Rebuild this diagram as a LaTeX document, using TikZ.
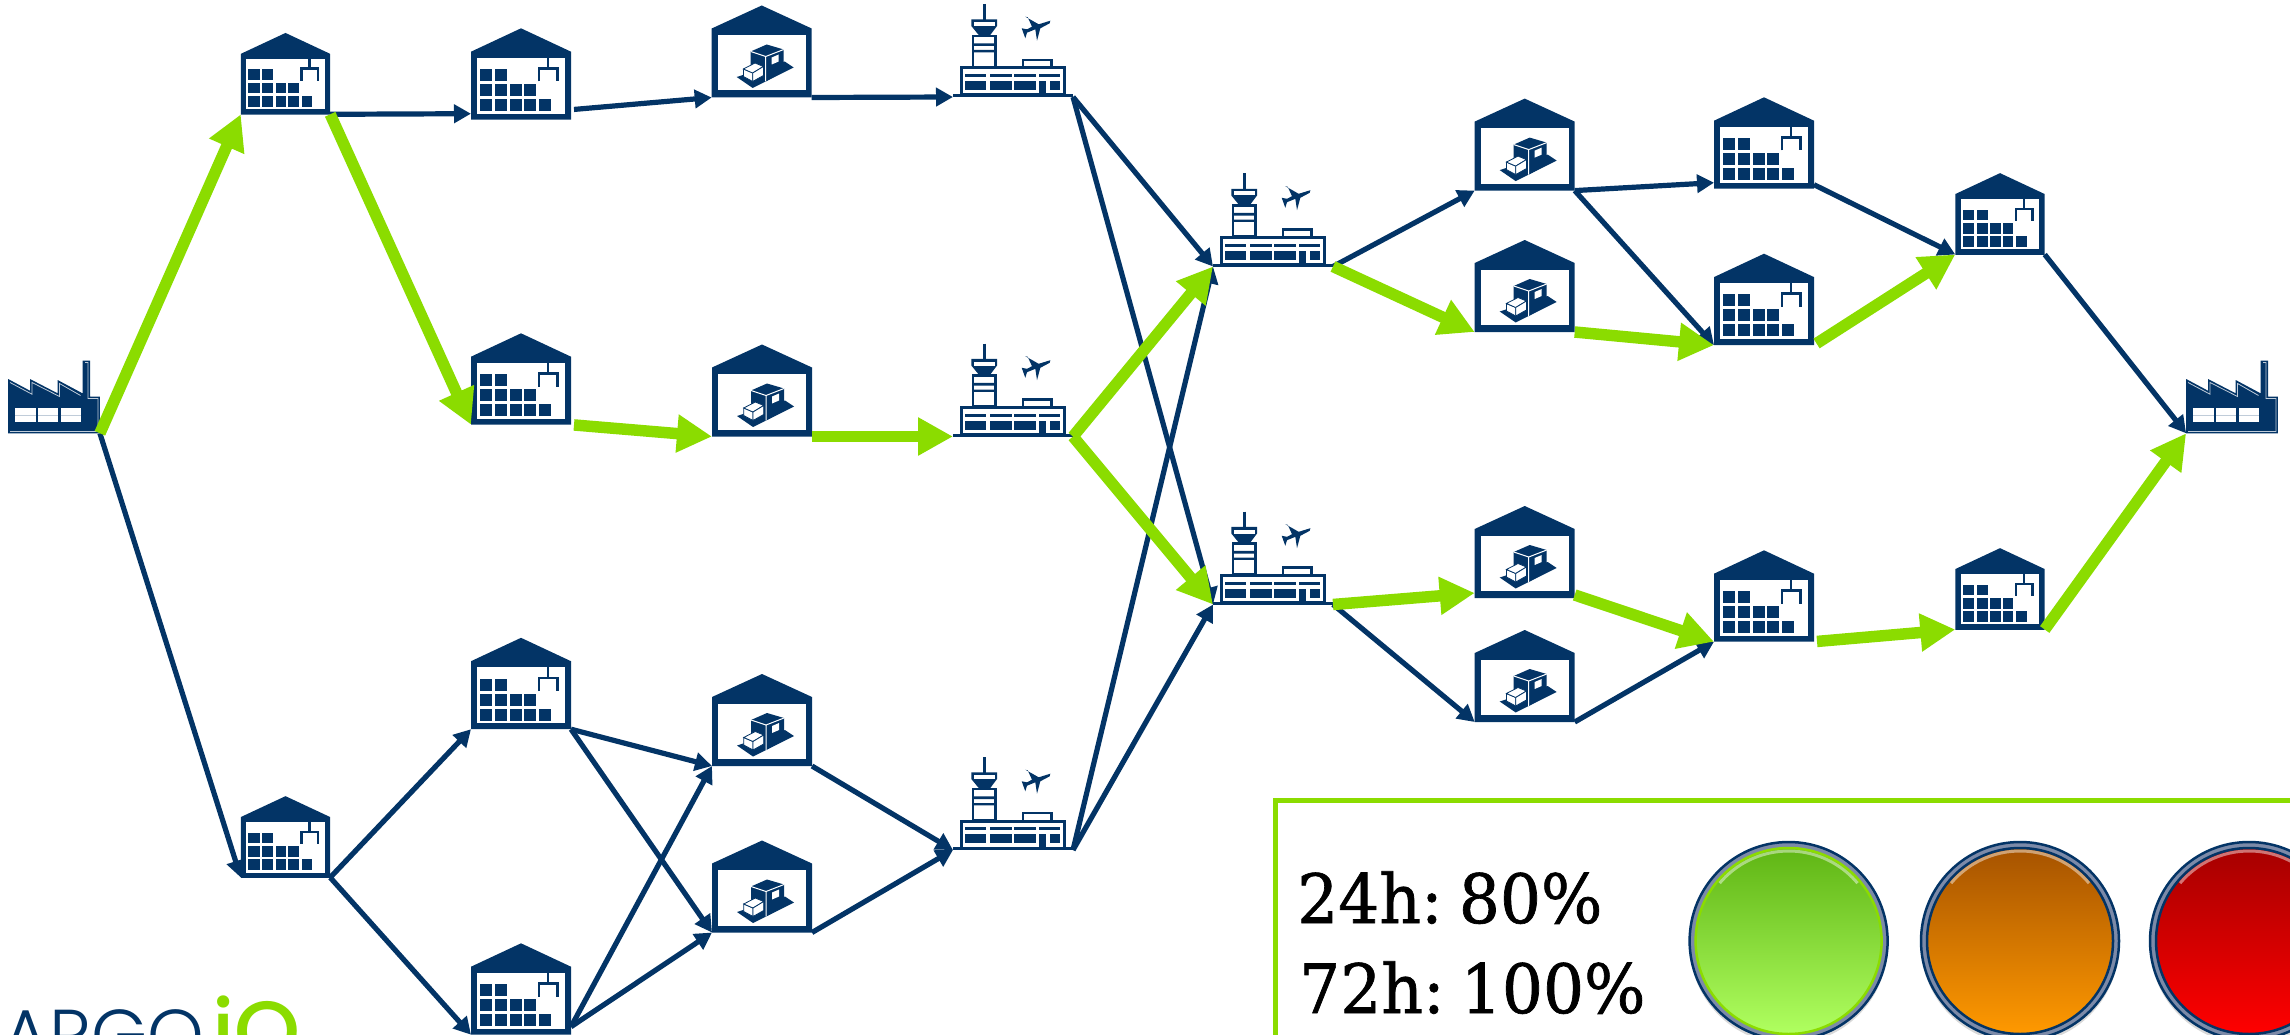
\documentclass[tikz,border=0pt]{standalone}
\usepackage{fontspec}
\usetikzlibrary{arrows.meta,shadows}
\newfontfamily\signfont[FakeStretch=0.95,FakeBold=1,WordSpace=0.45]{DejaVu Serif}
\newfontfamily\logofont{Poppins Light}
\newfontfamily\logoboldfont{Poppins Medium}
\definecolor{navy}{HTML}{033466}
\definecolor{lime}{HTML}{8BDC00}
\definecolor{ringgrey}{HTML}{7C8AA8}
\definecolor{lamptop}{HTML}{5FB514}
\definecolor{lampbottom}{HTML}{B0FF60}
\tikzset{
  wbox/.style={minimum width=100pt,minimum height=91.4pt,inner sep=0pt,outer sep=0pt},
  smallbox/.style={minimum width=89.4pt,minimum height=81pt,inner sep=0pt,outer sep=0pt},
  dbox/.style={minimum width=100pt,minimum height=92pt,inner sep=0pt,outer sep=0pt},
  abox/.style={minimum width=120pt,minimum height=94pt,inner sep=0pt,outer sep=0pt},
  fbox/.style={minimum width=91.8pt,minimum height=72.6pt,inner sep=0pt,outer sep=0pt},
  blueflow/.style={draw=navy,line width=5.2pt,-{Triangle[length=17pt,width=18pt]}},
  greenflow/.style={draw=lime,line width=11.5pt,-{Triangle[length=35pt,width=36pt]}},
  lampring/.style={circle,minimum size=198pt,inner sep=0pt,fill=ringgrey,draw=navy,line width=2.5pt,
    drop shadow={shadow xshift=0pt,shadow yshift=-4pt,opacity=.3}},
  lamp/.style={circle,minimum size=186pt,inner sep=0pt,line width=2.5pt},
  lampglow/.style={draw=white,opacity=.45,line width=3pt,y=1pt},
  signtext/.style={anchor=base west,inner sep=0pt,font=\signfont\fontsize{68}{68}\selectfont},
  warepic/.pic={
    \fill[navy] (0,-45.7) -- (50,-22.3) -- (50,45.7) -- (-50,45.7) -- (-50,-22.3) -- cycle;
    \fill[white] (-44,-16.3) rectangle (44,39.7);
    \foreach \x/\xx in {-41.5/-29,-26/-14} \fill[navy] (\x,-5) rectangle (\xx,7);
    \foreach \x/\xx in {-41.5/-29,-26/-14,-11/1,3/15} \fill[navy] (\x,10) rectangle (\xx,22);
    \foreach \x/\xx in {-41.5/-29,-26/-14,-11/1,3/15,18/30} \fill[navy] (\x,25) rectangle (\xx,37);
    \draw[navy,line width=2.5pt] (27,-16.3) -- (27,-5.7) (18,7.5) -- (18,-5.7) -- (36.5,-5.7) -- (36.5,7.5);
  },
  dockpic/.pic={
    \fill[navy] (0,-46) -- (50,-23) -- (50,46) -- (-50,46) -- (-50,-23) -- cycle;
    \fill[white] (-44,-16.5) rectangle (44,39);
    \fill[navy] (-25,25.5) -- (-9,36.5) -- (32,16) -- (23,10) -- cycle;
    \fill[navy] (-11,0) -- (4,5) -- (22,-2) -- (22,20) -- (4,30) -- (-11,22) -- cycle;
    \fill[navy] (-11,0) -- (5,-7) -- (22,-2) -- (4,5) -- cycle;
    \draw[white,line width=1pt] (-11,0) -- (4,5) -- (22,-2) (4,5) -- (4,30);
    \fill[white] (10,6) -- (17,3) -- (17,10) -- (10,13) -- cycle;
    \draw[navy,fill=white,line width=.8pt] (-18.3,17.5) -- (-9,21.5) -- (-9,30) -- (-18.3,25) -- cycle;
    \draw[navy,fill=white,line width=.8pt] (-18.3,17.5) -- (-6.7,11.5) -- (1.7,15) -- (-9,21.5) -- cycle;
    \draw[navy,fill=white,line width=.8pt] (-9,21.5) -- (1.7,15) -- (1.7,24) -- (-9,30) -- cycle;
  },
  airpic/.pic={
    \draw[navy,line width=2.5pt] (-28.7,-46) -- (-28.7,-30);
    \draw[navy,fill=white,line width=2.5pt] (-40,-14) rectangle (-17.5,17);
    \fill[navy] (-40,-6.7) rectangle (-17.5,-4) (-40,0) rectangle (-17.5,2.3);
    \fill[navy] (-41.7,-30.7) -- (-16,-30.7) -- (-16,-24) -- (-22.7,-15) -- (-34.3,-15) -- (-41.7,-24) -- cycle;
    \fill[white] (-39.3,-28) rectangle (-18.3,-24);
    \draw[navy,fill=white,line width=2.5pt] (10,10) rectangle (38.5,18);
    \draw[navy,fill=white,line width=3pt] (-52,18) rectangle (51,45);
    \foreach \x/\xx in {-47.7/-26.7,-22.7/-1.3,1.3/22.7,25.7/46.7} \fill[navy] (\x,24) rectangle (\xx,27.3);
    \foreach \x/\xx in {-47.7/-26.7,-22.7/-1.3,1.3/22.7,37.3/46.7} \fill[navy] (\x,31) rectangle (\xx,40.3);
    \fill[navy] (25.7,31) rectangle (33.3,45.7);
    \draw[navy,line width=3pt] (-60,45.7) -- (60,45.7);
    \fill[navy] (37.3,-29.3) -- (25.7,-25.7) -- (12.3,-33.3) -- (14.7,-32.7) -- (19,-23.3) -- (14,-20.7) -- (8.7,-21.7) -- (12.3,-11.7) -- (14,-17.3) -- (22.3,-20.7) -- (24,-9.3) -- (27.3,-21.7) -- (36.7,-26.7) -- cycle;
  },
  factpic/.pic={
    \fill[navy] (-45.9,-18) -- (-24,-6.3) -- (-24,-18) -- (3.6,-3.7) -- (3.6,-17) -- (28.5,-3.7) -- (28.5,-36.3) -- (36,-36.3) -- (36,-.3) -- (45.9,-.3) -- (45.9,36.3) -- (-45.9,36.3) -- cycle;
    \draw[white!75!navy,line width=.8pt] (-44,-14.5) -- (-22,-2.8) -- (-22,-14.5) -- (5.5,-.5) -- (5.5,-13.5) -- (26.5,-1.5) (31,-34.5) -- (34,-34.5) -- (34,1.5) -- (44,1.5) -- (44,34.5) -- (-44,34.5);
    \foreach \x/\xx in {-38.8/-18.2,-15.8/4.3,6.7/27.3} {
      \fill[white] (\x,11.3) rectangle (\xx,24.7);
      \draw[white!75!navy,line width=.8pt] (\x,18) -- (\xx,18);
    }
  }
}
\begin{document}
\begin{tikzpicture}[x=1pt,y=-1pt]
\useasboundingbox (0,0) rectangle (2290,1035);

\foreach \n/\x/\y in {w2/521/74,w3/521/379,w4/521/683.5,w5/521/989,w6/1764/143,w7/1764/299.4,w8/1764/596} {
  \node[wbox] (\n) at (\x,\y) {};
  \pic at (\n) {warepic};
}
\foreach \n/\x/\y in {w1/285.5/73.8,w9/2000/214,w10/2000/589,w11/285.5/837} {
  \node[smallbox] (\n) at (\x,\y) {};
  \pic[scale=.894] at (\n) {warepic};
}
\foreach \n/\x/\y in {d1/761.7/51.5,d2/762/390.5,d3/762/720,d4/762/886.5,d5/1524.7/144.6,d6/1524.7/286,d7/1524.7/552,d8/1524.7/676} {
  \node[dbox] (\n) at (\x,\y) {};
  \pic at (\n) {dockpic};
}
\foreach \n/\x/\y in {a1/1013/50,a2/1013/389.5,a3/1013/803,a4/1273/219.5,a5/1273/557.5} {
  \node[abox] (\n) at (\x,\y) {};
  \pic at (\n) {airpic};
}
\foreach \n/\x/\y in {f1/54/397,f2/2232/397} {
  \node[fbox] (\n) at (\x,\y) {};
  \pic at (\n) {factpic};
}

\path[blueflow] (f1.south east) -- (w11.south west);
\path[blueflow] (w1.south east) -- ([yshift=6pt]w2.south west);
\path[blueflow,shorten <=3pt] ([yshift=10pt]w2.south east) -- (d1.south west);
\path[blueflow] (d1.south east) -- (a1.south west);
\path[blueflow] (a1.south east) -- (a4.south west);
\path[blueflow] (a1.south east) -- (a5.south west);
\path[blueflow] (a3.south east) -- (a4.south west);
\path[blueflow] (a3.south east) -- (a5.south west);
\path[blueflow] (a4.south east) -- (d5.south west);
\path[blueflow] (d5.south east) -- ([yshift=6pt]w6.south west);
\path[blueflow] (d5.south east) -- (w7.south west);
\path[blueflow] ([yshift=4pt]w6.south east) -- (w9.south west);
\path[blueflow] (w9.south east) -- (f2.south west);
\path[blueflow] (a5.south east) -- (d8.south west);
\path[blueflow] (d8.south east) -- (w8.south west);
\path[blueflow] (w11.south east) -- (w4.south west);
\path[blueflow] (w11.south east) -- (w5.south west);
\path[blueflow] (w4.south east) -- (d3.south west);
\path[blueflow] (w4.south east) -- (d4.south west);
\path[blueflow] ([yshift=8pt]w5.south east) -- (d3.south west);
\path[blueflow] ([yshift=8pt]w5.south east) -- (d4.south west);
\path[blueflow] (d3.south east) -- (a3.south west);
\path[blueflow] (d4.south east) -- (a3.south west);

\path[greenflow] (f1.south east) -- (w1.south west);
\path[greenflow] (w1.south east) -- (w3.south west);
\path[greenflow,shorten <=3pt] (w3.south east) -- (d2.south west);
\path[greenflow] (d2.south east) -- (a2.south west);
\path[greenflow] (a2.south east) -- (a4.south west);
\path[greenflow] (a2.south east) -- (a5.south west);
\path[greenflow] (a4.south east) -- (d6.south west);
\path[greenflow] (d6.south east) -- (w7.south west);
\path[greenflow,shorten <=3pt] (w7.south east) -- (w9.south west);
\path[greenflow] (a5.south east) -- ([yshift=5pt]d7.south west);
\path[greenflow] ([yshift=3pt]d7.south east) -- (w8.south west);
\path[greenflow,shorten <=3pt] (w8.south east) -- (w10.south west);
\path[greenflow] (w10.south east) -- (f2.south west);

\draw[lime,line width=5pt] (2290,800) -| (1275,1035);
\node[signtext] (rate24) at (1297,923) {24h: 80\%};
\node[signtext] (rate72) at (1299,1013) {72h: 100\%};

\node[lampring] (ringgreen) at (1788.6,941) {};
\node[lampring] (ringamber) at (2020,941) {};
\node[lampring] (ringred) at (2249,941) {};
\node[lamp,draw=lime,top color=lamptop,bottom color=lampbottom] (lampgreen) at (ringgreen) {};
\node[lamp,draw=navy,top color=orange!65!black,bottom color=orange!80!yellow] (lampamber) at (ringamber) {};
\node[lamp,draw=navy,top color=red!65!black,bottom color=red] (lampred) at (ringred) {};
\foreach \n in {lampgreen,lampamber,lampred}
  \draw[lampglow] ([shift={(140:90pt)}]\n.center) arc[start angle=140,end angle=40,radius=90pt];

\node[anchor=base west,inner sep=0pt,text=navy,font=\logofont\fontsize{72}{72}\selectfont] (logoargo) at (2,1060) {ARGO};
\node[anchor=base west,inner sep=0pt,text=lime,font=\logoboldfont\fontsize{84}{84}\selectfont] (logoio) at (212,1060) {iO};
\end{tikzpicture}
\end{document}
